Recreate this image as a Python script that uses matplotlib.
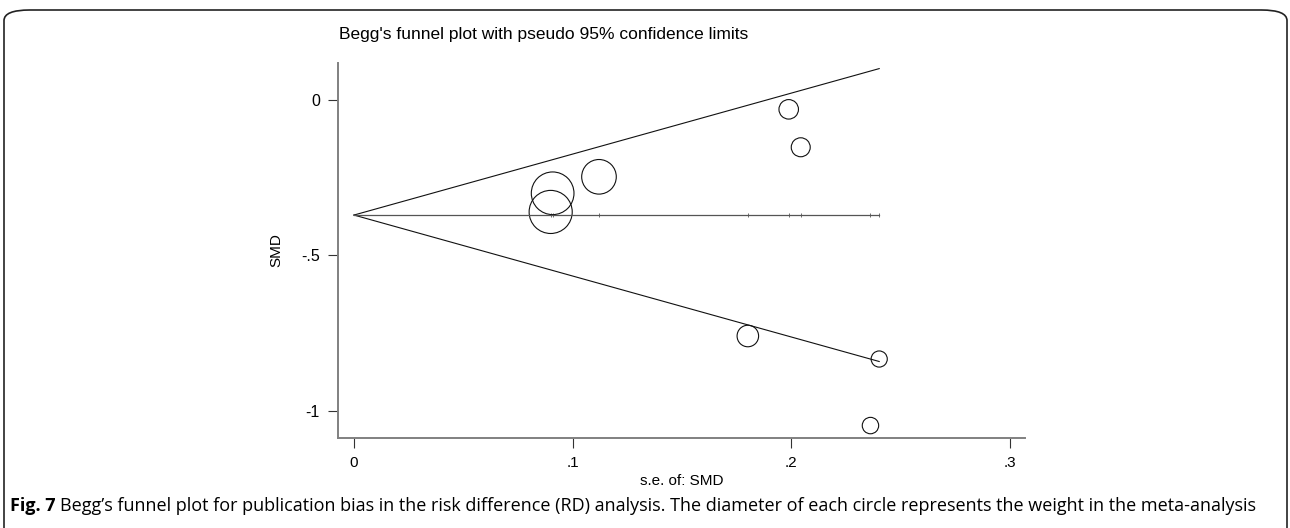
import matplotlib.pyplot as plt
from matplotlib.patches import FancyBboxPatch

# Study estimates
se = [0.0909, 0.0900, 0.1121, 0.1989, 0.2044, 0.1802, 0.2403, 0.2363]
smd = [-0.300, -0.360, -0.247, -0.030, -0.152, -0.759, -0.833, -1.047]
pooled = -0.370

xticks = [0, 0.1, 0.2, 0.3]
xtick_labels = ['0', '.1', '.2', '.3']
yticks = [0, -0.5, -1]
ytick_labels = ['0', '-.5', '-1']

font = 'Liberation Sans'

fig = plt.figure(figsize=(12.9, 5.28), dpi=100)
ax = fig.add_axes([338 / 1290, 1 - 438 / 528, 687 / 1290, 375 / 528])

# pseudo 95% confidence limits
se_max = max(se)
ax.plot([0, se_max], [pooled, pooled + 1.96 * se_max], color='#111111', lw=0.8)
ax.plot([0, se_max], [pooled, pooled - 1.96 * se_max], color='#111111', lw=0.8)
ax.plot([0, se_max], [pooled, pooled], color='#555555', lw=0.9)
ax.scatter(se, [pooled] * len(se), marker='|', s=12, color='#555555', lw=0.6)

# circle size ~ weight (1/se^2)
sizes = [7.8 / (s * s) for s in se]
ax.scatter(se, smd, s=sizes, facecolors='none', edgecolors='#111111', linewidths=0.8)

ax.set_xlim(-0.0073, 0.307)
ax.set_ylim(-1.087, 0.119)
ax.set_xticks(xticks)
ax.set_xticklabels(xtick_labels, fontsize=11, family=font)
ax.set_yticks(yticks)
ax.set_yticklabels(ytick_labels, fontsize=11.5, family=font)
ax.tick_params(length=7, width=0.8, color='#333333', pad=6)
for side in ['top', 'right']:
    ax.spines[side].set_visible(False)
for side in ['left', 'bottom']:
    ax.spines[side].set_color('#808080')
    ax.spines[side].set_linewidth(1.4)

ax.set_xlabel('s.e. of: SMD', fontsize=11, family=font, labelpad=3)
ax.set_ylabel('SMD', fontsize=11, family=font, labelpad=13)
fig.text(339 / 1290, 1 - 35 / 528, "Begg's funnel plot with pseudo 95% confidence limits",
         fontsize=12.5, family=font, va='center', ha='left')

# rounded frame around figure
frame = FancyBboxPatch((4 / 1290, -0.1), 1283 / 1290, 1.1 - 10 / 528,
                       boxstyle='round,pad=0,rounding_size=0.02', transform=fig.transFigure,
                       fill=False, edgecolor='#222222', lw=1.2)
fig.patches.append(frame)

# caption
cap_font = 'Open Sans'
cap_size = 12.95
y_cap = 1 - 506 / 528
t1 = fig.text(10 / 1290, y_cap, 'Fig. 7', fontsize=cap_size, family=cap_font,
              fontweight='bold', va='center', ha='left')
renderer = fig.canvas.get_renderer()
bb = t1.get_window_extent(renderer)
fig.text(bb.x1 / 1290 + 4 / 1290, y_cap,
         'Begg\u2019s funnel plot for publication bias in the risk difference (RD) analysis. '
         'The diameter of each circle represents the weight in the meta-analysis',
         fontsize=cap_size, family=cap_font, va='center', ha='left')

fig.savefig('out.png', dpi=100)
